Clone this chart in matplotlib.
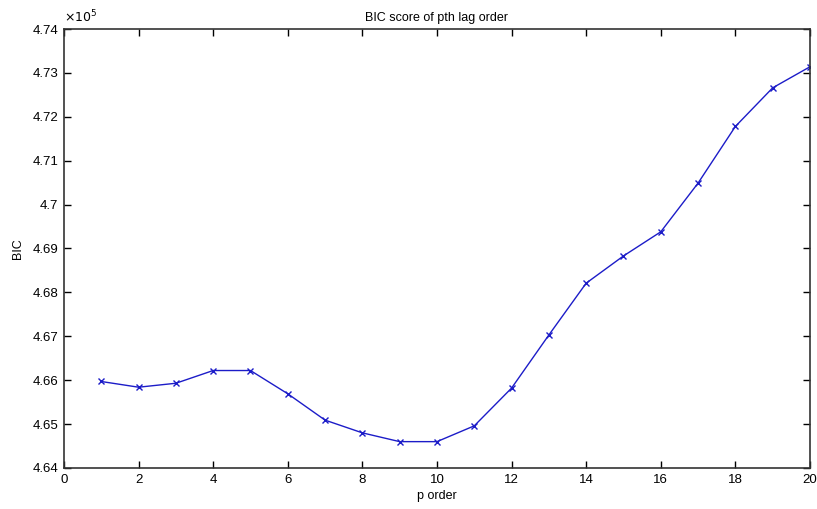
import matplotlib
matplotlib.use("Agg")
import matplotlib.pyplot as plt
from matplotlib.ticker import FuncFormatter, MultipleLocator

p_order = list(range(1, 21))
bic = [4.6597, 4.6584, 4.6593, 4.6622, 4.6622, 4.6569, 4.6509, 4.6480, 4.6460, 4.6460,
       4.6496, 4.6582, 4.6703, 4.6821, 4.6883, 4.6938, 4.7049, 4.7178, 4.7266, 4.7314]
bic = [v * 1e5 for v in bic]

plt.rcParams['font.family'] = ['Liberation Sans', 'DejaVu Sans']
fig = plt.figure(figsize=(8.17, 5.09), dpi=100)
ax = fig.add_axes([0.0783, 0.0806, 0.9131, 0.8624])
ax.plot(p_order, bic, color='#1c1cc8', lw=1.0, marker='x', markersize=5, mew=1.0)
ax.set_xlim(0, 20)
ax.set_ylim(4.64e5, 4.74e5)
ax.xaxis.set_major_locator(MultipleLocator(2))
ax.yaxis.set_major_locator(MultipleLocator(1000))
ax.yaxis.set_major_formatter(FuncFormatter(lambda v, pos: '%g' % round(v / 1e5, 4)))
ax.tick_params(direction='in', top=True, right=True, length=5, width=1, labelsize=9.5,
               colors='black', pad=4)
for s in ax.spines.values():
    s.set_color('#333333')
    s.set_linewidth(1.2)
ax.set_title('BIC score of pth lag order', fontsize=9, pad=6)
ax.set_xlabel('p order', fontsize=9, labelpad=3)
ax.set_ylabel('BIC', fontsize=9, labelpad=6)
ax.text(0.0, 1.008, r'$\times 10^5$', transform=ax.transAxes, fontsize=9, ha='left', va='bottom')
fig.savefig('out.png', dpi=100)
